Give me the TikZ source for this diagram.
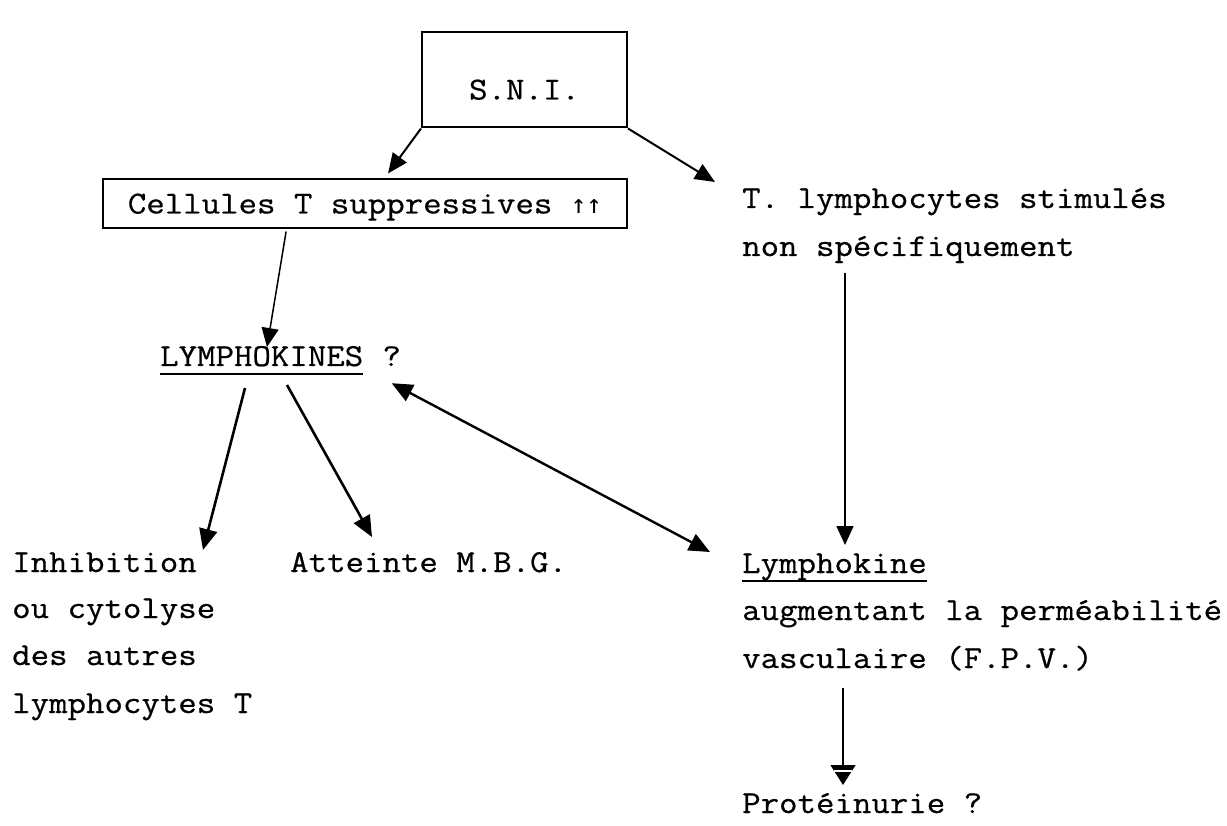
\documentclass[tikz,border=0pt]{standalone}
\usepackage{fontspec}
\setmainfont{Latin Modern Mono}[FakeStretch=1.12,FakeBold=0.6]
\newfontfamily\arrfont{DejaVu Sans Mono}
\usetikzlibrary{arrows.meta,calc}
\begin{document}
\begin{tikzpicture}[x=1pt,y=-1pt,
  txt/.style={inner sep=0pt,anchor=base west,font=\fontsize{32}{47}\selectfont},
  boxnode/.style={draw,line width=2pt,inner sep=0pt,font=\fontsize{32}{47}\selectfont},
  arr/.style={line width=2pt,-{Triangle[length=20pt,width=17pt]}},
  arrthin/.style={line width=1.5pt,-{Triangle[length=19pt,width=17pt]}},
  arrthick/.style={line width=2.6pt,-{Triangle[length=21pt,width=18pt]}},
  uline/.style={line width=2.6pt}]
\useasboundingbox (0,0) rectangle (1227,826);
\fill[white] (0,0) rectangle (1227,826);

% boxes
\node[boxnode,minimum width=205pt,text height=67pt,text depth=28pt] (sni) at (524.5,80) {S.N.I.};
\node[boxnode,minimum width=524pt,text height=34pt,text depth=15pt] (cel) at (365,204) {Cellules T suppressives {\arrfont\fontsize{26}{26}\selectfont ↑↑}};

% right column
\node[txt] (tl) at (742,208) {T. lymphocytes stimulés};
\node[txt] (ns) at (742,256) {non spécifiquement};
\node[txt] (lyk) at (742,573) {Lymphokine};
\node[txt] (aug) at (742,620) {augmentant la perméabilité};
\node[txt] (vasc) at (742,668) {vasculaire (F.P.V.)};
\node[txt] (prot) at (742,813) {Protéinurie ?};

% middle
\node[txt] (lk) at (160,366) {LYMPHOKINES};
\node[txt] (q) at ([xshift=18.8pt]lk.base east) {?};

% left column
\node[txt] (inh) at (12,572) {Inhibition};
\node[txt] (ou) at (12,618) {ou cytolyse};
\node[txt] (des) at (12,665) {des autres};
\node[txt] (lym) at (12,713) {lymphocytes T};
\node[txt] (att) at (290,572) {Atteinte M.B.G.};

% underlines
\draw[uline] ([yshift=-8pt]lk.base west) -- ([yshift=-8pt]lk.base east);
\draw[uline,line width=2pt] ([yshift=-8pt]lyk.base west) -- ([yshift=-8pt]lyk.base east);

% connectors
\draw[arr] (sni.south west) -- ([shift={(23,-5)}]cel.north);
\draw[arr] (sni.south east) -- ([shift={(-27,-26)}]tl.base west);
\draw[arrthin] ([yshift=-2pt]$(cel.south west)!0.35!(cel.south east)$) -- ([shift={(107,-19)}]lk.base west);
\draw[arrthick] ([shift={(85,22)}]lk.base west) -- ([shift={(191,-22)}]inh.base west);
\draw[arrthick] ([shift={(127,19)}]lk.base west) -- ([shift={(82,-35)}]att.base west);
\draw[line width=2.4pt,{Triangle[length=21pt,width=18pt]}-{Triangle[length=21pt,width=18pt]}] ([shift={(0,17)}]q.south) -- ([shift={(-32,-21)}]lyk.base west);
\draw[arrthin] ([shift={(103,17)}]ns.base west) -- ([shift={(103,-28)}]lyk.base west);
\draw[line width=1.5pt,-{Triangle[length=20pt,width=25pt]}] ([shift={(101,20)}]vasc.base west) coordinate (v1) -- ([shift={(101,-28)}]prot.base west) coordinate (v2);
\draw[white,line width=1.2pt] ([shift={(-9,-14)}]v2) -- ([shift={(9,-14)}]v2);
\end{tikzpicture}
\end{document}
